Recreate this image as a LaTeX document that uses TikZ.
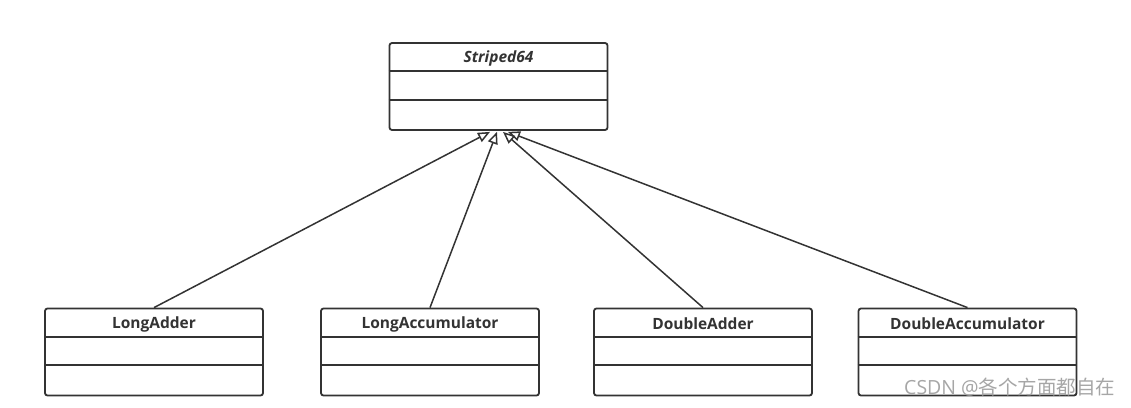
\documentclass[tikz,border=0pt]{standalone}
\usepackage{fontspec}
\setmainfont{Open Sans}
\newfontfamily\cjk{Noto Sans CJK SC}
\usetikzlibrary{arrows.meta,calc}
\definecolor{ink}{HTML}{333333}
\tikzset{
  cls/.style={draw=ink, line width=1.8pt, rounded corners=2.5pt, minimum width=218pt, minimum height=87pt, inner sep=0pt, fill=white},
  sep/.style={draw=ink, line width=1.8pt},
  title/.style={font=\bfseries\fontsize{15.5pt}{18pt}\selectfont, text=ink, inner sep=0pt},
  inh/.style={draw=ink, line width=1.5pt, -{Triangle[open, length=12pt, width=10pt, line width=1.5pt]}},
}
\begin{document}
\begin{tikzpicture}[x=1pt,y=-1pt]
\useasboundingbox (0,0) rectangle (1131,407);
% top class
\node[cls] (s) at (498.5,86.5) {};
\draw[sep] ($(s.north west)+(0,29)$) -- ($(s.north east)+(0,29)$);
\draw[sep] ($(s.north west)+(0,58)$) -- ($(s.north east)+(0,58)$);
\node[title, font=\bfseries\itshape\fontsize{15.5pt}{18pt}\selectfont] (st) at (498.5,58) {Striped64};
% bottom classes
\foreach \n/\x/\t in {a/154/LongAdder, b/430/LongAccumulator, c/703/DoubleAdder, d/967.5/DoubleAccumulator}{
  \node[cls] (\n) at (\x,352) {};
  \draw[sep] ($(\n.north west)+(0,29)$) -- ($(\n.north east)+(0,29)$);
  \draw[sep] ($(\n.north west)+(0,57)$) -- ($(\n.north east)+(0,57)$);
  \node[title] (\n t) at (\x,324) {\t};
}
\coordinate (pa) at ($(s.south)+(-8.5,1)$);
\coordinate (pb) at ($(s.south)+(-1.5,1)$);
\coordinate (pc) at ($(s.south)+(4.5,1)$);
\coordinate (pd) at ($(s.south)+(9.5,1)$);
\draw[inh] (a.north) -- (pa);
\draw[inh] (b.north) -- (pb);
\draw[inh] (c.north) -- (pc);
\draw[inh] (d.north) -- (pd);
\node[text=black!35, font=\fontsize{19.5pt}{22pt}\selectfont, anchor=west, inner sep=0pt] (wm) at (904,387) {CSDN @{\cjk 各个方面都自在}};
\end{tikzpicture}
\end{document}
